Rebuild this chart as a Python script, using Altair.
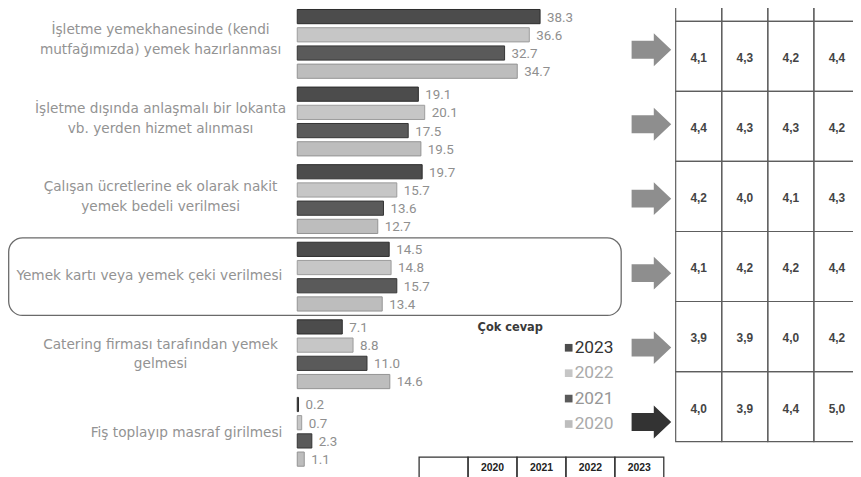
import altair as alt
import pandas as pd

# ---------------- layout helpers (reference pixel -> chart pixel) ----------------
W, H = 853, 469


def X(r):
    return r - 8


def Y(r):
    return (r - 1.5) * H / 475.5


# ---------------- data ----------------
categories = [
    "İşletme yemekhanesinde (kendi\nmutfağımızda) yemek hazırlanması",
    "İşletme dışında anlaşmalı bir lokanta\nvb. yerden hizmet alınması",
    "Çalışan ücretlerine ek olarak nakit\nyemek bedeli verilmesi",
    "Yemek kartı veya yemek çeki verilmesi",
    "Catering firması tarafından yemek\ngelmesi",
    "Fiş toplayıp masraf girilmesi",
]
years = ["2023", "2022", "2021", "2020"]
v2023 = [38.3, 19.1, 19.7, 14.5, 7.1, 0.2]
v2022 = [36.6, 20.1, 15.7, 14.8, 8.8, 0.7]
v2021 = [32.7, 17.5, 13.6, 15.7, 11.0, 2.3]
v2020 = [34.7, 19.5, 12.7, 13.4, 14.6, 1.1]

score_years = ["2020", "2021", "2022", "2023"]
s2020 = [4.1, 4.4, 4.2, 4.1, 3.9, 4.0]
s2021 = [4.3, 4.3, 4.0, 4.2, 3.9, 3.9]
s2022 = [4.2, 4.3, 4.1, 4.2, 4.0, 4.4]
s2023 = [4.4, 4.2, 4.3, 4.4, 4.2, 5.0]

bottom_headers = ["", "2020", "2021", "2022", "2023"]
legend_title = "Çok cevap"

# ---------------- tables for the library ----------------
bars = pd.DataFrame(
    [
        {"cat": c, "year": y, "value": v}
        for y, vals in zip(years, [v2023, v2022, v2021, v2020])
        for c, v in zip(categories, vals)
    ]
)
labels = pd.DataFrame({"cat": categories, "multi": ["\n" in c for c in categories]})
scores = pd.DataFrame(
    [
        {"row": c, "col": y, "score": s}
        for y, vals in zip(score_years, [s2020, s2021, s2022, s2023])
        for c, s in zip(categories, vals)
    ]
)
header_cells = pd.DataFrame({"row": ["hdr"] * len(score_years), "col": score_years})
cells = pd.concat([header_cells, scores[["row", "col"]]], ignore_index=True)
bottom = pd.DataFrame({"col": [f"b{i}" for i in range(len(bottom_headers))], "txt": bottom_headers})
legend_df = pd.DataFrame({"year": years})

# ---------------- scales ----------------
XB = alt.X("value:Q", scale=alt.Scale(domain=[0, 40], range=[X(300), X(300 + 40 * 6.4)]), axis=None)
YB = alt.Y(
    "cat:N",
    scale=alt.Scale(domain=categories, range=[Y(36 - 39.7), Y(433 + 39.7)], paddingInner=0, paddingOuter=0),
    axis=None,
)
YLAB = alt.Y(
    "cat:N",
    scale=alt.Scale(domain=categories, range=[Y(-8), Y(474.6)], paddingInner=0, paddingOuter=0),
    axis=None,
)
YO = alt.YOffset("year:N", scale=alt.Scale(domain=years, paddingInner=0.22, paddingOuter=0.24))
COLOR = alt.Color(
    "year:N",
    scale=alt.Scale(domain=years, range=["#4c4c4c", "#c6c6c6", "#5a5a5a", "#bdbdbd"]),
    legend=None,
)
STROKE = alt.Stroke(
    "year:N",
    scale=alt.Scale(domain=years, range=["#2c2c2c", "#9c9c9c", "#353535", "#939393"]),
    legend=None,
)
YA = alt.Y(
    "cat:N",
    scale=alt.Scale(domain=categories, range=[Y(3.9), Y(461.1)], paddingInner=0, paddingOuter=0),
    axis=None,
)
YT = alt.Y(
    "row:N",
    scale=alt.Scale(domain=["hdr"] + categories, range=[Y(13 - 71.7), Y(443)], paddingInner=0, paddingOuter=0),
    axis=None,
)
XT = alt.X(
    "col:N",
    scale=alt.Scale(domain=score_years, range=[X(682), X(868)], paddingInner=0, paddingOuter=0),
    axis=None,
)
XBT = alt.X(
    "col:N",
    scale=alt.Scale(domain=list(bottom["col"]), range=[X(423), X(670)], paddingInner=0, paddingOuter=0),
    axis=None,
)
YL = alt.Y(
    "year:N",
    scale=alt.Scale(domain=years, range=[Y(334), Y(438)], paddingInner=0, paddingOuter=0),
    axis=None,
)

LABEL_FONT = "DejaVu Sans"
LABEL_COLOR = "#939393"

# ---------------- layers ----------------
box = (
    alt.Chart(labels)
    .transform_filter(alt.datum.cat == categories[3])
    .mark_rect(cornerRadius=14, fillOpacity=0, stroke="#6a6a6a", strokeWidth=1.3)
    .encode(y=YB, x=alt.value(0.7), x2=alt.value(X(627)))
)

bar_layer = (
    alt.Chart(bars)
    .mark_bar(strokeWidth=1)
    .encode(x=XB, y=YB, yOffset=YO, color=COLOR, stroke=STROKE)
)

value_labels = (
    alt.Chart(bars)
    .mark_text(align="left", baseline="middle", dx=7, dy=1, font="Roboto", fontSize=13.5, color="#8f8f8f")
    .encode(x=XB, y=YB, yOffset=YO, text=alt.Text("value:Q", format=".1f"))
)

cat_multi = (
    alt.Chart(labels)
    .transform_filter("datum.multi")
    .mark_text(
        align="center", baseline="middle", lineBreak="\n", lineHeight=20, dy=-10,
        font=LABEL_FONT, fontSize=13.8, color=LABEL_COLOR,
    )
    .encode(x=alt.value(X(162)), y=YLAB, text="cat:N")
)
cat_single = (
    alt.Chart(labels)
    .transform_filter("!datum.multi")
    .mark_text(align="right", baseline="middle", font=LABEL_FONT, fontSize=13.8, color=LABEL_COLOR)
    .encode(x=alt.value(X(285)), y=YLAB, text="cat:N")
)

ARROW = "M -1 -0.45 L 0.12 -0.45 L 0.12 -0.83 L 1 0 L 0.12 0.83 L 0.12 0.45 L -1 0.45 Z"
arrows = (
    alt.Chart(labels)
    .mark_point(shape=ARROW, size=1600, filled=True, opacity=1, strokeWidth=0)
    .encode(
        x=alt.value(X(657.5)),
        y=YA,
        color=alt.condition(alt.datum.cat == categories[-1], alt.value("#333333"), alt.value("#8e8e8e")),
    )
)

table_cells = (
    alt.Chart(cells)
    .mark_rect(fillOpacity=0, stroke="#5e5e5e", strokeWidth=1.2)
    .encode(x=XT, y=YT)
)
table_text = (
    alt.Chart(scores)
    .transform_calculate(lbl="replace(format(datum.score, '.1f'), '.', ',')")
    .mark_text(font="Liberation Sans", fontWeight="bold", fontSize=12, color="#444444", dy=2)
    .encode(x=XT, y=YT, text="lbl:N")
)

bottom_cells = (
    alt.Chart(bottom)
    .mark_rect(fillOpacity=0, stroke="#333333", strokeWidth=1.3)
    .encode(x=XBT, y=alt.value(Y(459)), y2=alt.value(H + 30))
)
bottom_text = (
    alt.Chart(bottom)
    .mark_text(font="Liberation Sans", fontWeight="bold", fontSize=10.5, color="#222222", baseline="middle")
    .encode(x=XBT, y=alt.value(Y(470)), text="txt:N")
)

legend_title_layer = (
    alt.Chart(pd.DataFrame({"t": [legend_title]}))
    .mark_text(font="DejaVu Sans", fontWeight="bold", fontSize=11.5, color="#3a3a3a")
    .encode(x=alt.value(X(515)), y=alt.value(Y(327)), text="t:N")
)
legend_squares = (
    alt.Chart(legend_df)
    .mark_square(size=60, opacity=1)
    .encode(x=alt.value(X(574)), y=YL, color=COLOR)
)
legend_text = (
    alt.Chart(legend_df)
    .mark_text(align="left", baseline="middle", font="Roboto", fontSize=17.5)
    .encode(
        x=alt.value(X(580)),
        y=YL,
        text="year:N",
        fill=alt.Fill("year:N", scale=alt.Scale(domain=years, range=["#333333", "#aaaaaa", "#969696", "#aaaaaa"]), legend=None),
    )
)

chart = (
    alt.layer(
        box, bar_layer, value_labels, cat_multi, cat_single, arrows,
        table_cells, table_text, bottom_cells, bottom_text,
        legend_title_layer, legend_squares, legend_text,
    )
    .resolve_scale(x="independent", y="independent")
    .properties(width=W, height=H, padding=0, autosize=alt.AutoSizeParams(type="none"), background="white")
    .configure_view(stroke=None)
)

chart.save("out.html", embed_options={"renderer": "svg", "actions": False})
